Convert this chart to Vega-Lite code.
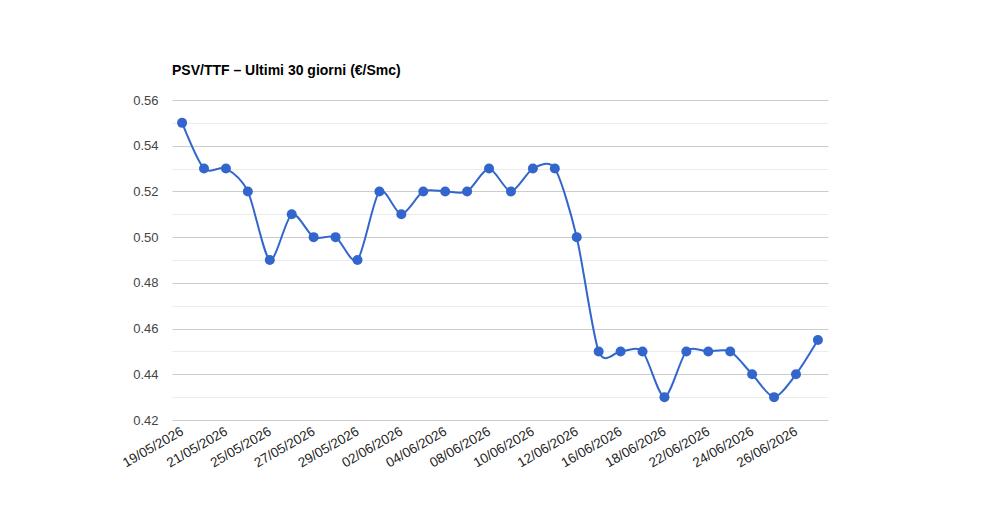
{
  "$schema": "https://vega.github.io/schema/vega-lite/v6.json",
  "width": 656,
  "height": 320,
  "autosize": {"type": "none"},
  "padding": {"left": 172, "top": 100, "right": 172, "bottom": 100},
  "background": "white",
  "title": {
    "text": "PSV/TTF – Ultimi 30 giorni (€/Smc)",
    "anchor": "start",
    "font": "Liberation Sans",
    "fontSize": 14,
    "fontWeight": "bold",
    "color": "#000000",
    "offset": 16,
    "frame": "group"
  },
  "config": {
    "view": {"stroke": null},
    "font": "Liberation Sans"
  },
  "data": {
    "values": [
      {"date": "19/05/2026", "value": 0.55},
      {"date": "20/05/2026", "value": 0.53},
      {"date": "21/05/2026", "value": 0.53},
      {"date": "22/05/2026", "value": 0.52},
      {"date": "25/05/2026", "value": 0.49},
      {"date": "26/05/2026", "value": 0.51},
      {"date": "27/05/2026", "value": 0.50},
      {"date": "28/05/2026", "value": 0.50},
      {"date": "29/05/2026", "value": 0.49},
      {"date": "01/06/2026", "value": 0.52},
      {"date": "02/06/2026", "value": 0.51},
      {"date": "03/06/2026", "value": 0.52},
      {"date": "04/06/2026", "value": 0.52},
      {"date": "05/06/2026", "value": 0.52},
      {"date": "08/06/2026", "value": 0.53},
      {"date": "09/06/2026", "value": 0.52},
      {"date": "10/06/2026", "value": 0.53},
      {"date": "11/06/2026", "value": 0.53},
      {"date": "12/06/2026", "value": 0.50},
      {"date": "15/06/2026", "value": 0.45},
      {"date": "16/06/2026", "value": 0.45},
      {"date": "17/06/2026", "value": 0.45},
      {"date": "18/06/2026", "value": 0.43},
      {"date": "19/06/2026", "value": 0.45},
      {"date": "22/06/2026", "value": 0.45},
      {"date": "23/06/2026", "value": 0.45},
      {"date": "24/06/2026", "value": 0.44},
      {"date": "25/06/2026", "value": 0.43},
      {"date": "26/06/2026", "value": 0.44},
      {"date": "29/06/2026", "value": 0.455}
    ]
  },
  "encoding": {
    "x": {
      "field": "date",
      "type": "ordinal",
      "sort": null,
      "scale": {"type": "point", "padding": 0.46},
      "axis": {
        "title": null,
        "values": ["19/05/2026","21/05/2026","25/05/2026","27/05/2026","29/05/2026","02/06/2026","04/06/2026","08/06/2026","10/06/2026","12/06/2026","16/06/2026","18/06/2026","22/06/2026","24/06/2026","26/06/2026"],
        "labelAngle": -30,
        "labelAlign": "right",
        "labelBaseline": "middle",
        "labelPadding": 10,
        "labelFont": "Liberation Sans",
        "labelFontSize": 13.5,
        "labelColor": "#222222",
        "ticks": false,
        "domain": false,
        "grid": false
      }
    },
    "y": {
      "field": "value",
      "type": "quantitative",
      "scale": {"domain": [0.42, 0.56], "nice": false, "zero": false},
      "axis": {
        "title": null,
        "values": [0.42,0.43,0.44,0.45,0.46,0.47,0.48,0.49,0.50,0.51,0.52,0.53,0.54,0.55,0.56],
        "labelExpr": "round(datum.value*100) % 2 == 0 ? format(datum.value, '.2f') : ''",
        "labelFont": "Liberation Sans",
        "labelFontSize": 13,
        "labelColor": "#444444",
        "labelPadding": 14,
        "ticks": false,
        "domain": false,
        "grid": true,
        "gridColor": {"condition": {"test": "round(datum.value*100) % 2 == 0", "value": "#cccccc"}, "value": "#ebebeb"},
        "gridWidth": 1
      }
    }
  },
  "layer": [
    {
      "mark": {"type": "line", "interpolate": "cardinal", "tension": 0.2, "color": "#3366cc", "strokeWidth": 2}
    },
    {
      "mark": {"type": "point", "filled": true, "color": "#3366cc", "size": 100, "opacity": 1}
    }
  ]
}
